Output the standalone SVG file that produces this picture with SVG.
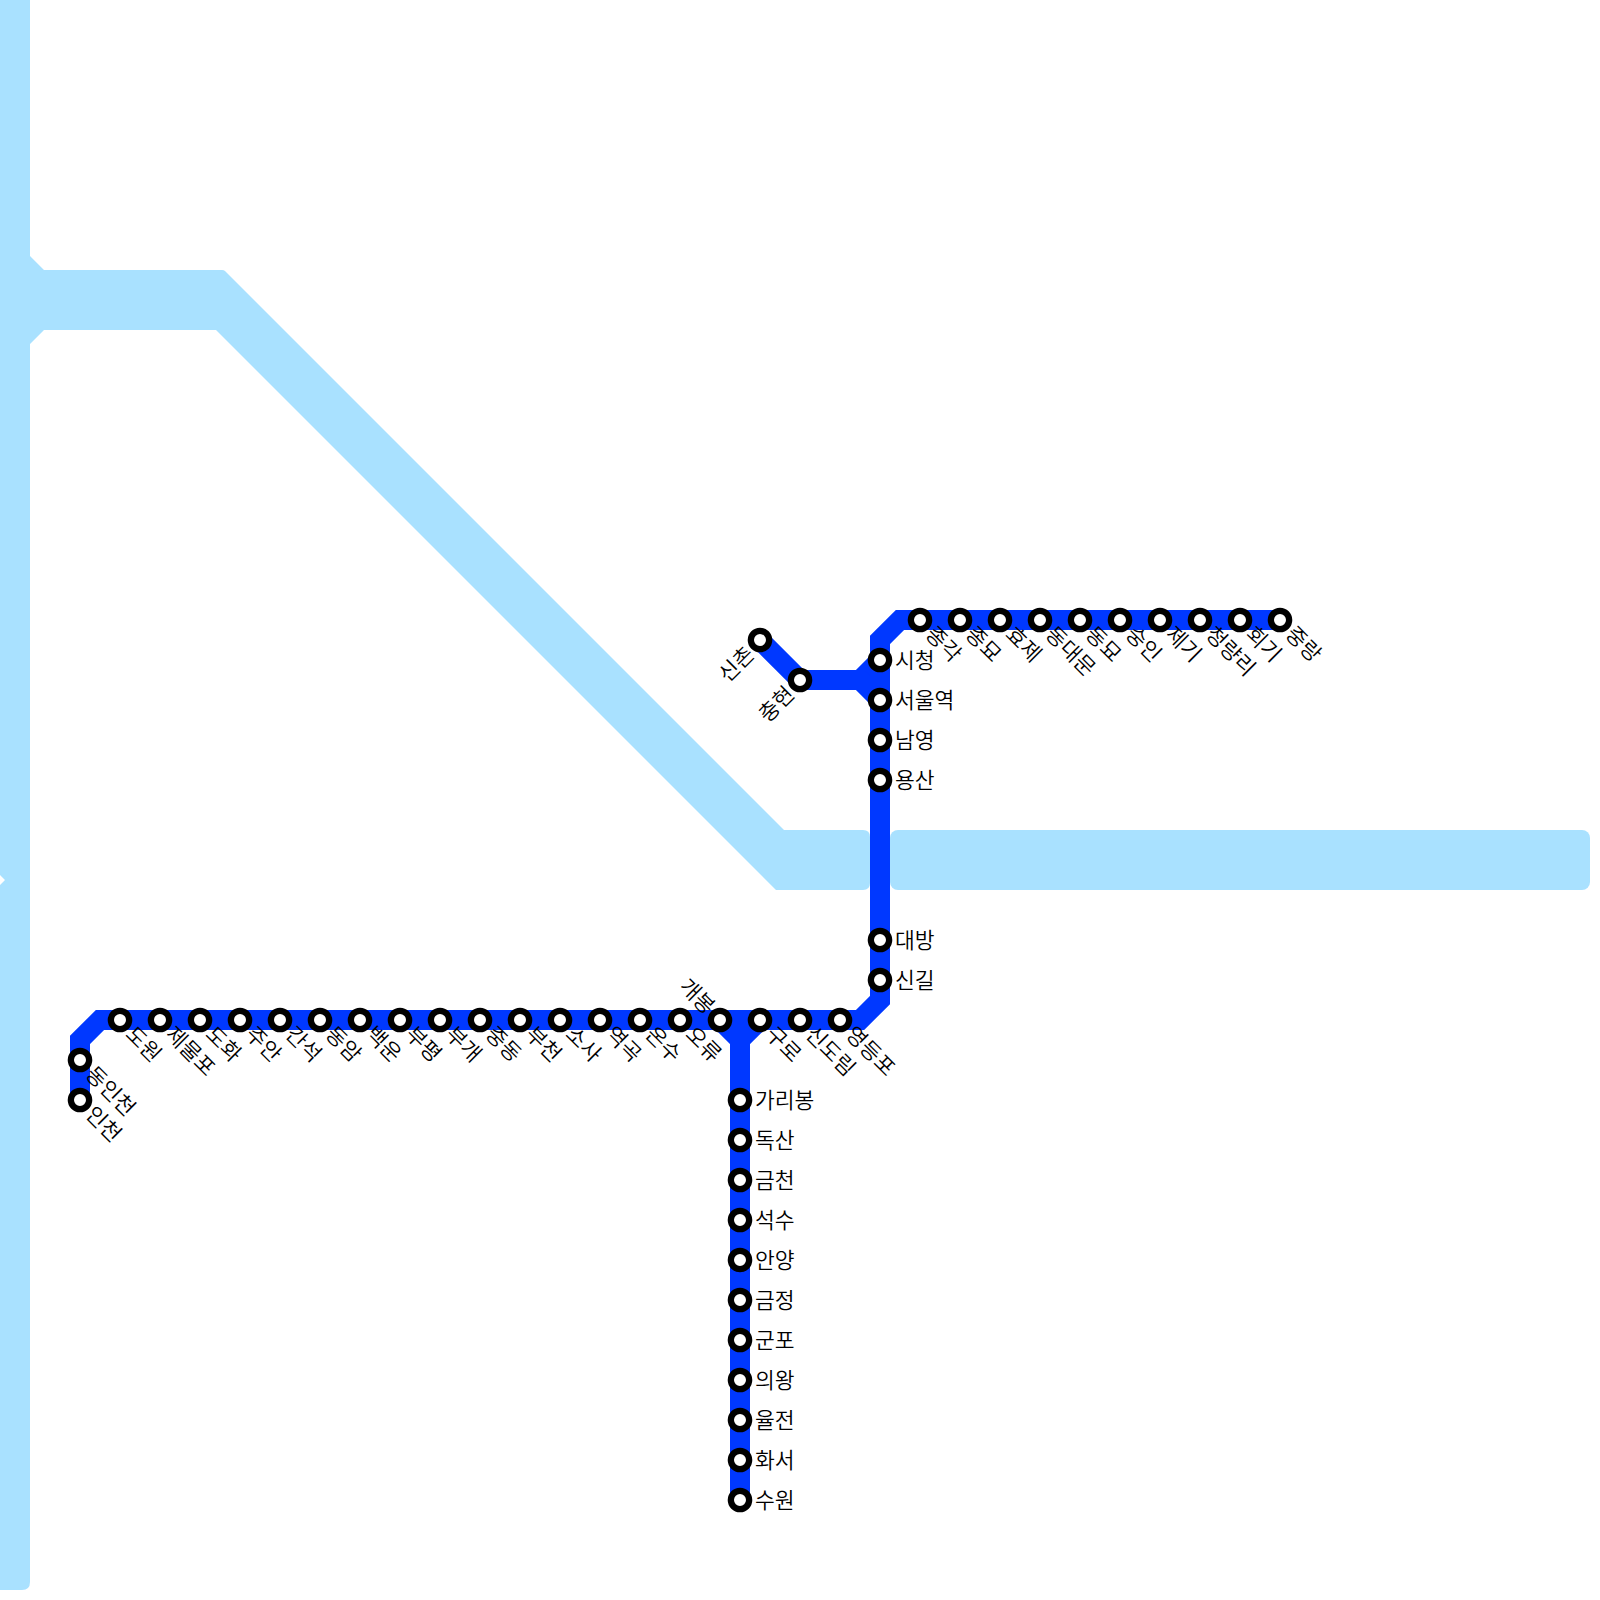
<svg xmlns="http://www.w3.org/2000/svg" width="1600" height="1600" viewBox="0 0 1600 1600">
<style>
.river{fill:#a9e1ff}
.line{fill:none;stroke:#0038ff;stroke-width:20;stroke-linejoin:miter}
circle{fill:#fff;stroke:#000;stroke-width:6.3}
text{font-family:"Noto Sans CJK KR","Noto Sans",sans-serif;font-size:21.5px;font-weight:350;fill:#000}
.e{text-anchor:end}
</style>
<rect width="1600" height="1600" fill="#fff"/>
<g id="water">
<path class="river" d="M0 0H30V256L44 270H222Q224 270 225 271L784 830H863Q870 830 870 837V883Q870 890 863 890H776L216 330H44L30 344V1582Q30 1590 22 1590H0V885L5 880L0 875Z"/>
<rect class="river" x="890" y="830" width="700" height="60" rx="8"/>
</g>
<g id="connectors">
<path class="line" d="M800 680H860L880 660V640L900 620H1280"/>
<path class="line" d="M760 640L800 680H860L880 700V1000L860 1020H100L80 1040V1100"/>
<path class="line" d="M880 660V700"/>
<path class="line" d="M740 1500V1040L720 1020M740 1040L760 1020"/>
</g>
<g id="st-sinchon" transform="translate(760,640)"><circle r="9.15"/><text class="e" transform="rotate(-45)" x="-14" y="8">신촌</text></g>
<g id="st-chunghyeon" transform="translate(800,680)"><circle r="9.15"/><text class="e" transform="rotate(-45)" x="-14" y="8">충현</text></g>
<g id="st-sicheong" transform="translate(880,660)"><circle r="9.15"/><text x="15" y="8">시청</text></g>
<g id="st-seoul" transform="translate(880,700)"><circle r="9.15"/><text x="15" y="8">서울역</text></g>
<g id="st-namyeong" transform="translate(880,740)"><circle r="9.15"/><text x="15" y="8">남영</text></g>
<g id="st-yongsan" transform="translate(880,780)"><circle r="9.15"/><text x="15" y="8">용산</text></g>
<g id="st-daebang" transform="translate(880,940)"><circle r="9.15"/><text x="15" y="8">대방</text></g>
<g id="st-singil" transform="translate(880,980)"><circle r="9.15"/><text x="15" y="8">신길</text></g>
<g id="st-jonggak" transform="translate(920,620)"><circle r="9.15"/><text transform="rotate(45)" x="14" y="8">종각</text></g>
<g id="st-jongmyo" transform="translate(960,620)"><circle r="9.15"/><text transform="rotate(45)" x="14" y="8">종묘</text></g>
<g id="st-hyoje" transform="translate(1000,620)"><circle r="9.15"/><text transform="rotate(45)" x="14" y="8">효제</text></g>
<g id="st-dongdaemun" transform="translate(1040,620)"><circle r="9.15"/><text transform="rotate(45)" x="14" y="8">동대문</text></g>
<g id="st-dongmyo" transform="translate(1080,620)"><circle r="9.15"/><text transform="rotate(45)" x="14" y="8">동묘</text></g>
<g id="st-sungin" transform="translate(1120,620)"><circle r="9.15"/><text transform="rotate(45)" x="14" y="8">숭인</text></g>
<g id="st-jegi" transform="translate(1160,620)"><circle r="9.15"/><text transform="rotate(45)" x="14" y="8">제기</text></g>
<g id="st-cheongnyangni" transform="translate(1200,620)"><circle r="9.15"/><text transform="rotate(45)" x="14" y="8">청량리</text></g>
<g id="st-hoegi" transform="translate(1240,620)"><circle r="9.15"/><text transform="rotate(45)" x="14" y="8">회기</text></g>
<g id="st-jungnang" transform="translate(1280,620)"><circle r="9.15"/><text transform="rotate(45)" x="14" y="8">중랑</text></g>
<g id="st-incheon" transform="translate(80,1100)"><circle r="9.15"/><text transform="rotate(45)" x="14" y="8">인천</text></g>
<g id="st-dongincheon" transform="translate(80,1060)"><circle r="9.15"/><text transform="rotate(45)" x="14" y="8">동인천</text></g>
<g id="st-dowon" transform="translate(120,1020)"><circle r="9.15"/><text transform="rotate(45)" x="14" y="8">도원</text></g>
<g id="st-jemulpo" transform="translate(160,1020)"><circle r="9.15"/><text transform="rotate(45)" x="14" y="8">제물포</text></g>
<g id="st-dohwa" transform="translate(200,1020)"><circle r="9.15"/><text transform="rotate(45)" x="14" y="8">도화</text></g>
<g id="st-juan" transform="translate(240,1020)"><circle r="9.15"/><text transform="rotate(45)" x="14" y="8">주안</text></g>
<g id="st-ganseok" transform="translate(280,1020)"><circle r="9.15"/><text transform="rotate(45)" x="14" y="8">간석</text></g>
<g id="st-dongam" transform="translate(320,1020)"><circle r="9.15"/><text transform="rotate(45)" x="14" y="8">동암</text></g>
<g id="st-baegun" transform="translate(360,1020)"><circle r="9.15"/><text transform="rotate(45)" x="14" y="8">백운</text></g>
<g id="st-bupyeong" transform="translate(400,1020)"><circle r="9.15"/><text transform="rotate(45)" x="14" y="8">부평</text></g>
<g id="st-bugae" transform="translate(440,1020)"><circle r="9.15"/><text transform="rotate(45)" x="14" y="8">부개</text></g>
<g id="st-jungdong" transform="translate(480,1020)"><circle r="9.15"/><text transform="rotate(45)" x="14" y="8">중동</text></g>
<g id="st-bucheon" transform="translate(520,1020)"><circle r="9.15"/><text transform="rotate(45)" x="14" y="8">부천</text></g>
<g id="st-sosa" transform="translate(560,1020)"><circle r="9.15"/><text transform="rotate(45)" x="14" y="8">소사</text></g>
<g id="st-yeokgok" transform="translate(600,1020)"><circle r="9.15"/><text transform="rotate(45)" x="14" y="8">역곡</text></g>
<g id="st-onsu" transform="translate(640,1020)"><circle r="9.15"/><text transform="rotate(45)" x="14" y="8">온수</text></g>
<g id="st-oryu" transform="translate(680,1020)"><circle r="9.15"/><text transform="rotate(45)" x="14" y="8">오류</text></g>
<g id="st-gaebong" transform="translate(720,1020)"><circle r="9.15"/><text class="e" transform="rotate(45)" x="-13" y="7">개봉</text></g>
<g id="st-guro" transform="translate(760,1020)"><circle r="9.15"/><text transform="rotate(45)" x="14" y="8">구로</text></g>
<g id="st-sindorim" transform="translate(800,1020)"><circle r="9.15"/><text transform="rotate(45)" x="14" y="8">신도림</text></g>
<g id="st-yeongdeungpo" transform="translate(840,1020)"><circle r="9.15"/><text transform="rotate(45)" x="14" y="8">영등포</text></g>
<g id="st-garibong" transform="translate(740,1100)"><circle r="9.15"/><text x="15" y="8">가리봉</text></g>
<g id="st-doksan" transform="translate(740,1140)"><circle r="9.15"/><text x="15" y="8">독산</text></g>
<g id="st-geumcheon" transform="translate(740,1180)"><circle r="9.15"/><text x="15" y="8">금천</text></g>
<g id="st-seoksu" transform="translate(740,1220)"><circle r="9.15"/><text x="15" y="8">석수</text></g>
<g id="st-anyang" transform="translate(740,1260)"><circle r="9.15"/><text x="15" y="8">안양</text></g>
<g id="st-geumjeong" transform="translate(740,1300)"><circle r="9.15"/><text x="15" y="8">금정</text></g>
<g id="st-gunpo" transform="translate(740,1340)"><circle r="9.15"/><text x="15" y="8">군포</text></g>
<g id="st-uiwang" transform="translate(740,1380)"><circle r="9.15"/><text x="15" y="8">의왕</text></g>
<g id="st-yuljeon" transform="translate(740,1420)"><circle r="9.15"/><text x="15" y="8">율전</text></g>
<g id="st-hwaseo" transform="translate(740,1460)"><circle r="9.15"/><text x="15" y="8">화서</text></g>
<g id="st-suwon" transform="translate(740,1500)"><circle r="9.15"/><text x="15" y="8">수원</text></g>
</svg>
